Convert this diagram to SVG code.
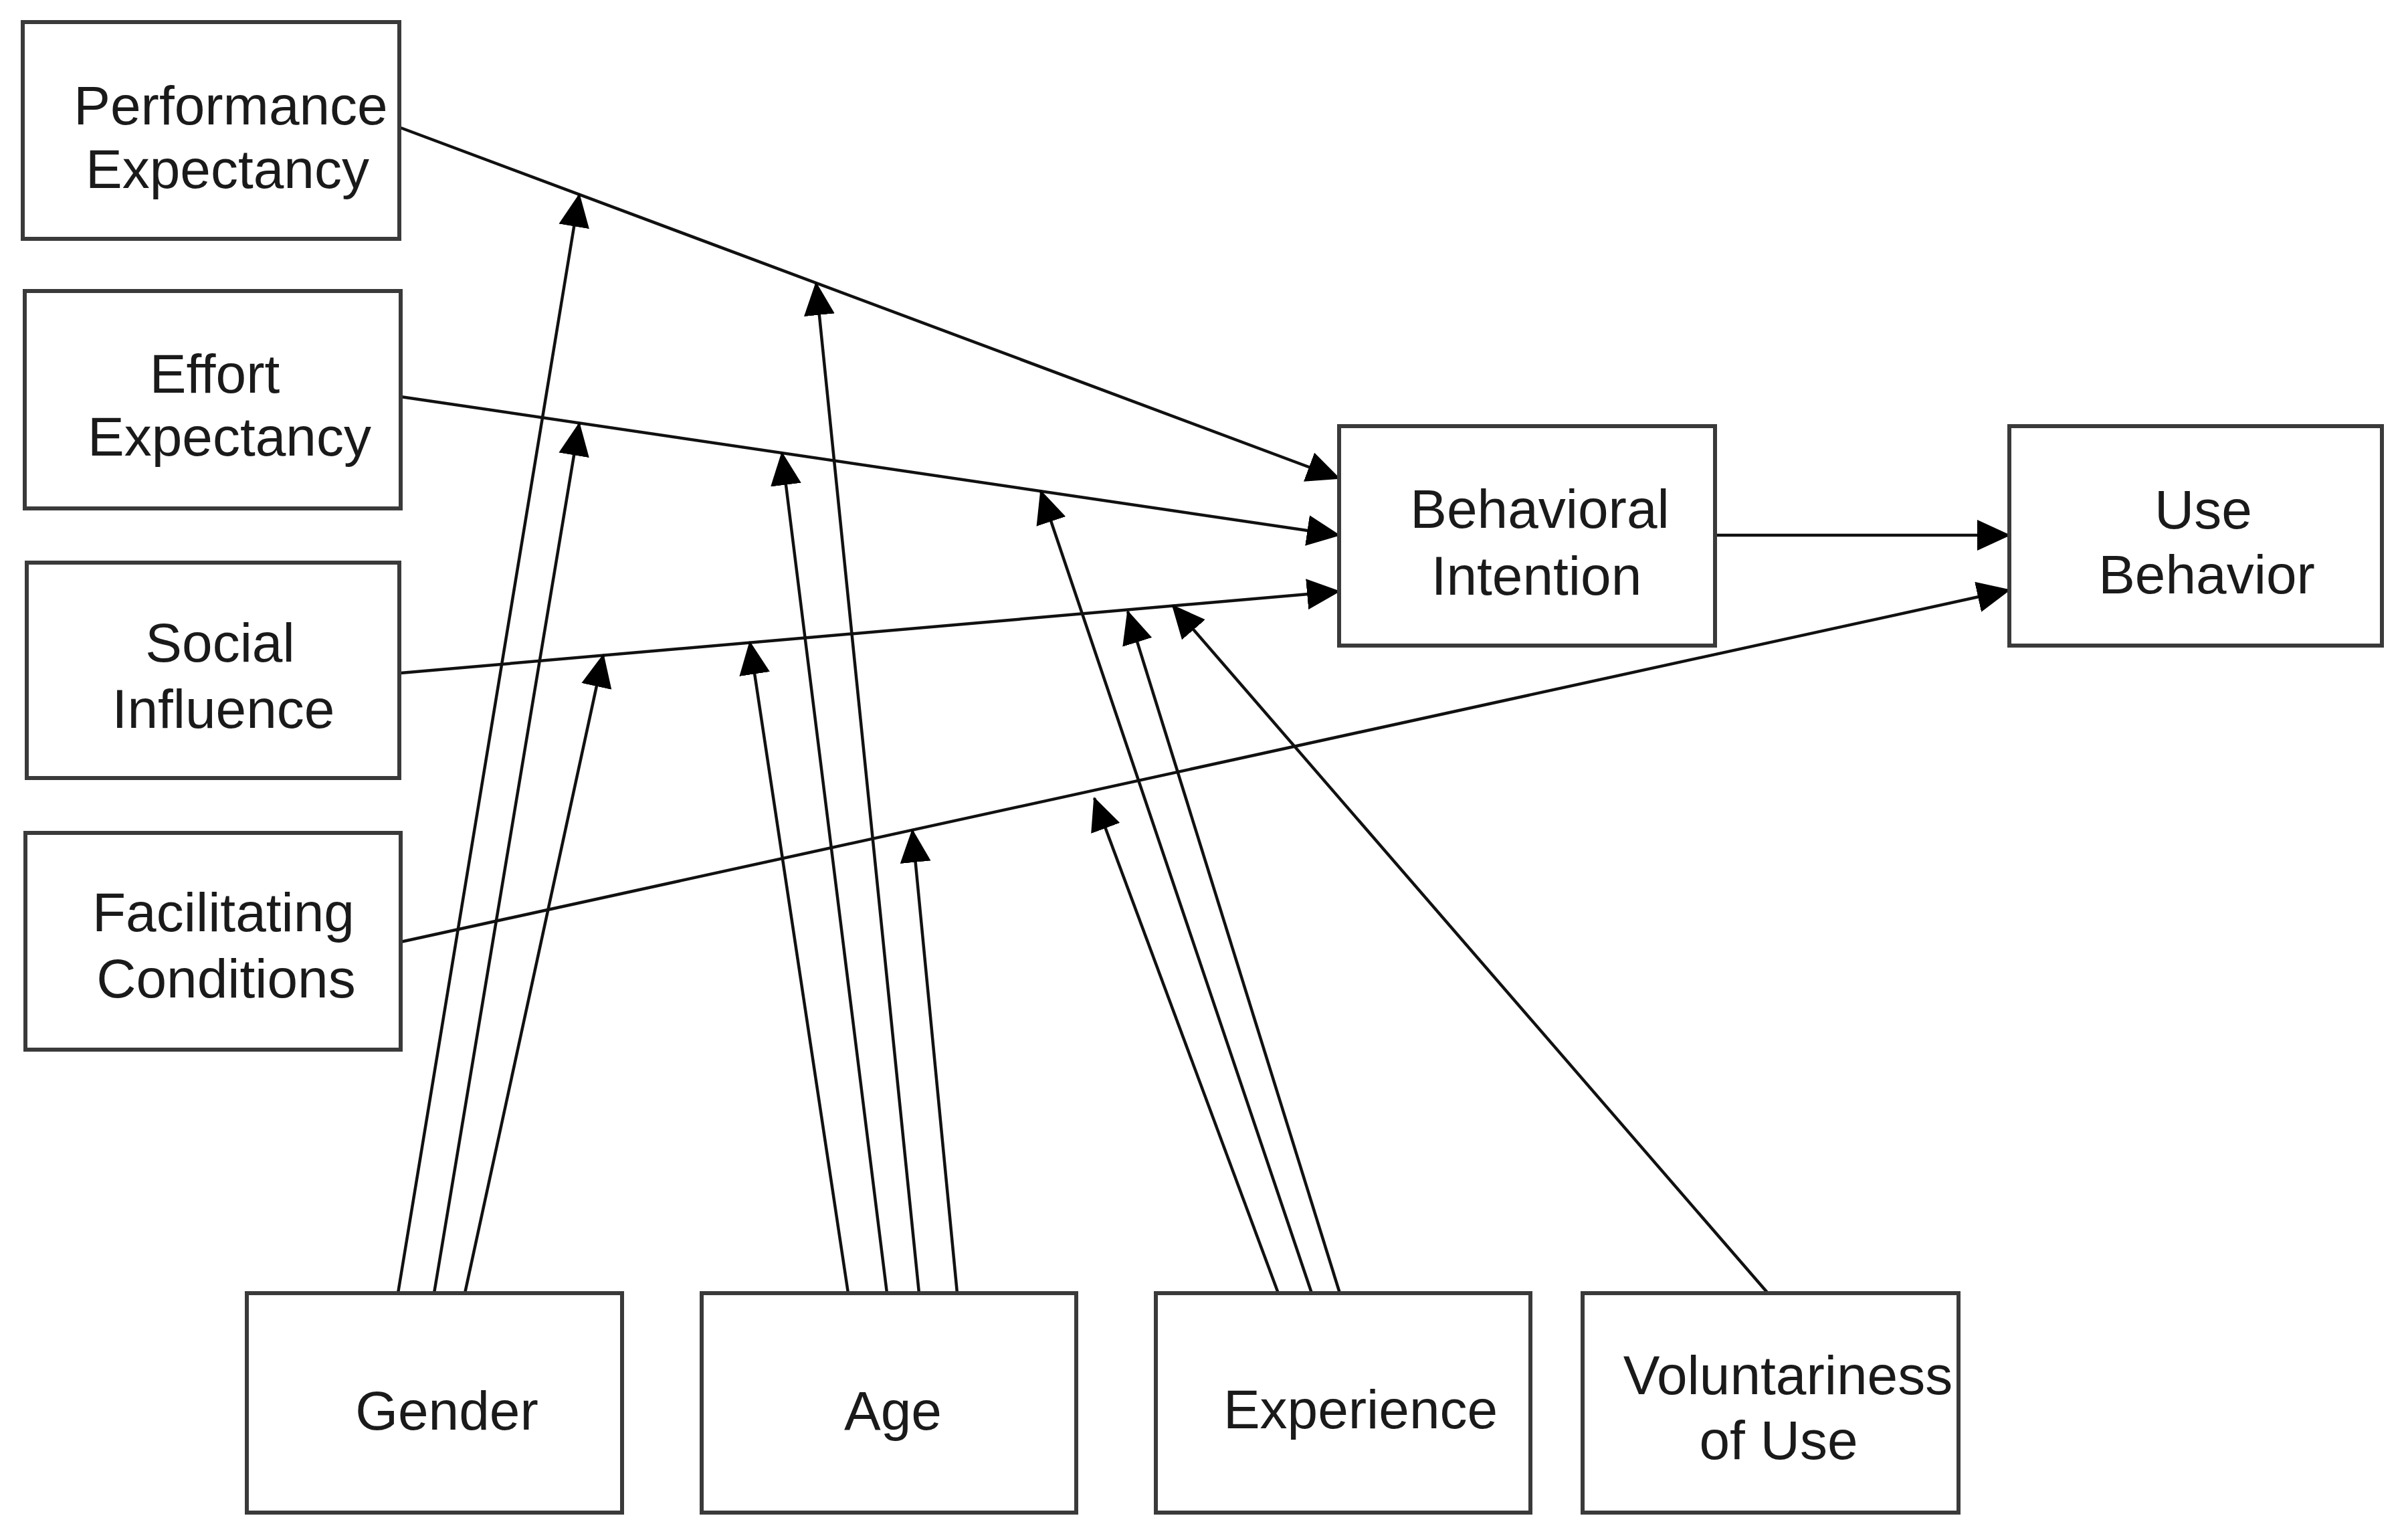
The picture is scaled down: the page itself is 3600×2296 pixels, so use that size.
<svg xmlns="http://www.w3.org/2000/svg" width="3600" height="2296" viewBox="0 0 3600 2296">
<style>
.box{fill:#fff;stroke:#3a3a3a;stroke-width:6}
.t{font-family:"Liberation Sans",Arial,sans-serif;font-size:82px;fill:#1a1a1a;text-anchor:middle}
.c{stroke:#111;stroke-width:4.5;fill:none;marker-end:url(#ah)}
</style>
<defs>
<marker id="ah" markerUnits="userSpaceOnUse" markerWidth="50" markerHeight="46" refX="48" refY="23" orient="auto">
<path d="M0,0 L50,23 L0,46 z" fill="#000"/>
</marker>
</defs>
<rect width="3600" height="2296" fill="#fff"/>
<g id="connectors">
<line class="c" x1="599" y1="191" x2="2002" y2="715"/>
<line class="c" x1="599" y1="593" x2="2002" y2="800"/>
<line class="c" x1="599" y1="1006" x2="2002" y2="884"/>
<line class="c" x1="599" y1="1408" x2="3004" y2="882"/>
<line class="c" x1="2564" y1="800" x2="3004" y2="800"/>
<line class="c" x1="595" y1="1933" x2="866" y2="291"/>
<line class="c" x1="649" y1="1933" x2="866" y2="633"/>
<line class="c" x1="695" y1="1933" x2="902" y2="979"/>
<line class="c" x1="1268" y1="1933" x2="1121" y2="960"/>
<line class="c" x1="1326" y1="1933" x2="1169" y2="677"/>
<line class="c" x1="1374" y1="1933" x2="1220" y2="423"/>
<line class="c" x1="1431" y1="1933" x2="1364" y2="1241"/>
<line class="c" x1="1911" y1="1933" x2="1636" y2="1193"/>
<line class="c" x1="1961" y1="1933" x2="1556" y2="734"/>
<line class="c" x1="2003" y1="1933" x2="1686" y2="914"/>
<line class="c" x1="2643" y1="1933" x2="1753" y2="905"/>
</g>
<g id="performance-expectancy">
<rect class="box" x="34" y="33" width="563" height="324"/>
<text class="t" x="345" y="186">Performance</text>
<text class="t" x="340" y="281">Expectancy</text>
</g>
<g id="effort-expectancy">
<rect class="box" x="37" y="435" width="562" height="325"/>
<text class="t" x="321" y="587">Effort</text>
<text class="t" x="343" y="681">Expectancy</text>
</g>
<g id="social-influence">
<rect class="box" x="40" y="841" width="557" height="322"/>
<text class="t" x="329" y="989">Social</text>
<text class="t" x="334" y="1088">Influence</text>
</g>
<g id="facilitating-conditions">
<rect class="box" x="38" y="1245" width="561" height="324"/>
<text class="t" x="334" y="1392">Facilitating</text>
<text class="t" x="338" y="1491">Conditions</text>
</g>
<g id="behavioral-intention">
<rect class="box" x="2002" y="637" width="562" height="328"/>
<text class="t" x="2302" y="789">Behavioral</text>
<text class="t" x="2297" y="889">Intention</text>
</g>
<g id="use-behavior">
<rect class="box" x="3004" y="637" width="557" height="328"/>
<text class="t" x="3294" y="790">Use</text>
<text class="t" x="3299" y="887">Behavior</text>
</g>
<g id="gender">
<rect class="box" x="369" y="1933" width="561" height="328"/>
<text class="t" x="668" y="2137">Gender</text>
</g>
<g id="age">
<rect class="box" x="1049" y="1933" width="560" height="328"/>
<text class="t" x="1335" y="2137">Age</text>
</g>
<g id="experience">
<rect class="box" x="1728" y="1933" width="560" height="328"/>
<text class="t" x="2034" y="2135">Experience</text>
</g>
<g id="voluntariness-of-use">
<rect class="box" x="2366" y="1933" width="562" height="328"/>
<text class="t" x="2673" y="2084">Voluntariness</text>
<text class="t" x="2659" y="2181">of Use</text>
</g>
</svg>
